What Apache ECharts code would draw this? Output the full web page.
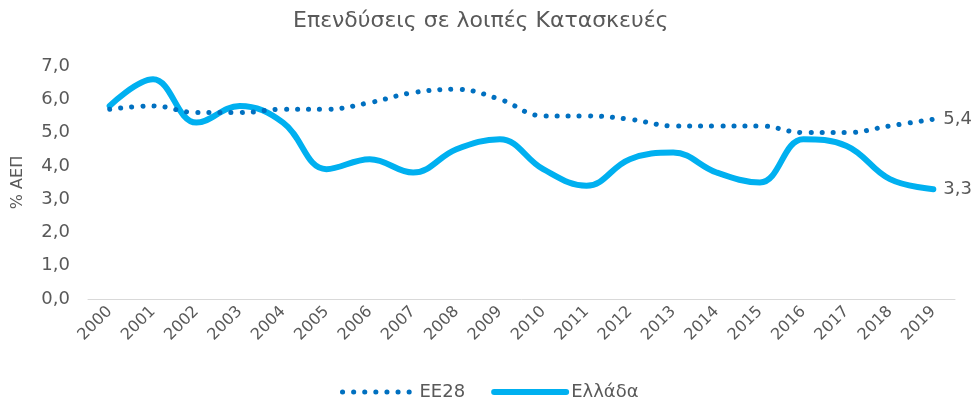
<!DOCTYPE html>
<html>
<head>
<meta charset="utf-8">
<script src="https://cdn.jsdelivr.net/npm/echarts@6/dist/echarts.min.js"></script>
<style>
  html, body { margin: 0; padding: 0; background: #fff; }
  #chart { width: 980px; height: 412px; }
</style>
</head>
<body>
<div id="chart"></div>
<script>
// data
var years = ['2000','2001','2002','2003','2004','2005','2006','2007','2008','2009',
             '2010','2011','2012','2013','2014','2015','2016','2017','2018','2019'];
var ee28 = [5.7, 5.8, 5.6, 5.6, 5.7, 5.7, 5.9, 6.2, 6.3, 6.0,
            5.5, 5.5, 5.4, 5.2, 5.2, 5.2, 5.0, 5.0, 5.2, 5.4];
var greece = [5.8, 6.6, 5.3, 5.8, 5.3, 3.9, 4.2, 3.8, 4.5, 4.8,
              3.9, 3.4, 4.2, 4.4, 3.8, 3.5, 4.8, 4.6, 3.6, 3.3];

var chart = echarts.init(document.getElementById('chart'));
var font = 'DejaVu Sans';
var textColor = '#595959';

function fmt(v) {
    return v.toFixed(1).replace('.', ',');
}

var option = {
    animation: false,
    title: {
        text: 'Επενδύσεις σε λοιπές Κατασκευές',
        left: 288,
        top: 5,
        textStyle: { fontFamily: font, fontSize: 22, fontWeight: 'normal', color: textColor }
    },
    grid: { left: 88, right: 25, top: 66, bottom: 113 },
    legend: {
        bottom: 6,
        left: 335,
        itemWidth: 72,
        itemHeight: 12,
        itemGap: 26,
        itemStyle: { opacity: 0 },
        textStyle: { fontFamily: font, fontSize: 18, color: textColor },
        data: [
            { name: 'EE28', lineStyle: { width: 5, type: [0.1, 11], cap: 'round', color: '#0070C0' } },
            { name: 'Ελλάδα', lineStyle: { width: 6, cap: 'round', color: '#00B0F0' } }
        ]
    },
    xAxis: {
        type: 'category',
        data: years,
        boundaryGap: true,
        axisLine: { lineStyle: { color: '#d9d9d9', width: 1 } },
        axisTick: { show: false },
        axisLabel: {
            rotate: 45,
            interval: 0,
            margin: 10,
            fontFamily: font,
            fontSize: 16,
            color: textColor
        }
    },
    yAxis: {
        type: 'value',
        min: 0,
        max: 7,
        interval: 1,
        name: '% ΑΕΠ',
        nameLocation: 'middle',
        nameGap: 62,
        nameTextStyle: { fontFamily: font, fontSize: 16, color: textColor },
        splitLine: { show: false },
        axisLine: { show: false },
        axisTick: { show: false },
        axisLabel: {
            margin: 18,
            fontFamily: font,
            fontSize: 18,
            color: textColor,
            formatter: function (v) { return fmt(v); }
        }
    },
    series: [
        {
            name: 'EE28',
            type: 'line',
            data: ee28,
            smooth: 0.4,
            symbol: 'none',
            color: '#0070C0',
            lineStyle: { color: '#0070C0', width: 5, type: [0.1, 11], cap: 'round' },
            endLabel: {
                show: true,
                distance: 10,
                fontFamily: font,
                fontSize: 18,
                color: textColor,
                formatter: function (p) { return fmt(p.value); }
            },
            z: 3
        },
        {
            name: 'Ελλάδα',
            type: 'line',
            data: greece,
            smooth: 0.4,
            symbol: 'none',
            color: '#00B0F0',
            lineStyle: { color: '#00B0F0', width: 6, cap: 'round' },
            endLabel: {
                show: true,
                distance: 10,
                fontFamily: font,
                fontSize: 18,
                color: textColor,
                formatter: function (p) { return fmt(p.value); }
            },
            z: 2
        }
    ]
};

option && chart.setOption(option);
</script>
</body>
</html>
